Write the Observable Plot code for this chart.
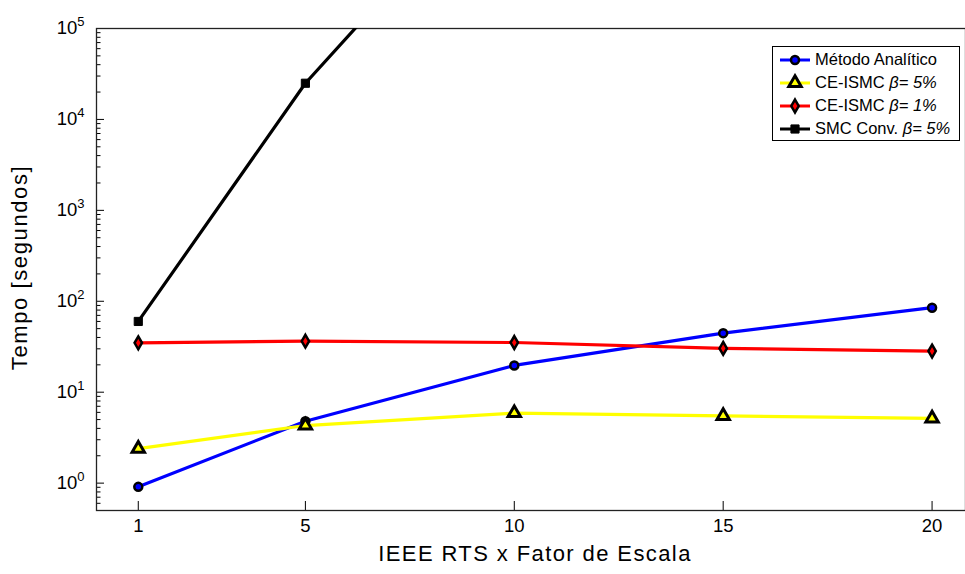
<!DOCTYPE html>
<html><head><meta charset="utf-8">
<script src="https://cdn.jsdelivr.net/npm/d3@7"></script>
<script src="https://cdn.jsdelivr.net/npm/@observablehq/plot@0.6"></script>
<style>
body{margin:0;background:#fff;font-family:"Liberation Sans",Arial,sans-serif}
#wrap{position:relative;width:965px;height:574px;overflow:hidden}
#legend{position:absolute;left:772px;top:46px;width:188px;height:95px;border:1.2px solid #000;background:#fff;box-sizing:border-box;font-size:16.5px;color:#000;padding-top:1px}
#legend .row{display:flex;align-items:center;height:23px;white-space:nowrap}
#legend svg{margin-left:6px;margin-right:4px;flex:none}
#legend i{font-style:italic}
</style></head><body><div id="wrap"></div>
<script>
// ---- data ----
const scaleFactors = [1, 5, 10, 15, 20];
const metodoAnalitico = [0.91, 4.8, 19.7, 44.6, 85];
const ceIsmcBeta5 = [2.4, 4.3, 5.9, 5.5, 5.15];
const ceIsmcBeta1 = [34.9, 36.4, 35.2, 30.3, 28.3];
const smcScaleFactors = [1, 5, 10];
const smcConvBeta5 = [60, 25000, 8.5e6];
const xTicks = [1, 5, 10, 15, 20];
const yTicks = [1, 10, 100, 1000, 10000, 100000];
const xLabel = "IEEE RTS x Fator de Escala";
const yLabel = "Tempo [segundos]";
const seriesNames = ["Método Analítico", "CE-ISMC ", "CE-ISMC ", "SMC Conv. "];
const seriesBeta = ["", "β= 5%", "β= 1%", "β= 5%"];
const seriesColors = ["#0000ff", "#ffff00", "#ff0000", "#000000"];
const seriesSymbols = ["circle", "triangle", "diamond", "square"];

const seriesX = [scaleFactors, scaleFactors, scaleFactors, smcScaleFactors];
const seriesY = [metodoAnalitico, ceIsmcBeta5, ceIsmcBeta1, smcConvBeta5];
const symbolR = {circle: 4, triangle: 4.6, diamond: 3.9, square: 4.6};
const symbolSW = {circle: 2.5, triangle: 3, diamond: 2.5, square: 1};
const series = seriesY.map((ys, i) => ({
  color: seriesColors[i], symbol: seriesSymbols[i],
  rows: ys.map((y, j) => ({x: seriesX[i][j], y}))
}));

const minorTicks = [];
for (let k = -1; k < 5; k++) for (let m = 2; m <= 9; m++) {
  const v = m * Math.pow(10, k);
  if (v >= 0.5 && v <= 1e5) minorTicks.push(v);
}

const marks = [
  Plot.axisY({ticks: minorTicks, tickSize: -4.5, tickFormat: () => "", label: null, strokeWidth: 1}),
  Plot.axisY({ticks: yTicks, tickSize: -8, tickPadding: 20, tickFormat: d => String(Math.round(Math.log10(d))), label: null, fontSize: 18.5, strokeWidth: 1}),
  Plot.axisX({ticks: xTicks, tickSize: -9, tickPadding: 17, tickFormat: d => String(d), label: null, fontSize: 18.5, strokeWidth: 1}),
  Plot.frame({stroke: "#222", strokeWidth: 1.3}),
  Plot.text([xLabel], {frameAnchor: "bottom", dy: 50, dx: 4, fontSize: 22}),
  Plot.text([yLabel], {frameAnchor: "left", textAnchor: "middle", dx: -76.5, dy: -2, rotate: -90, fontSize: 22})
];
for (const s of series) {
  marks.push(Plot.line(s.rows, {x: "x", y: "y", stroke: s.color, strokeWidth: 3.2, clip: true}));
  marks.push(Plot.dot(s.rows, {x: "x", y: "y", symbol: () => s.symbol, r: symbolR[s.symbol],
    fill: s.color, stroke: "#000", strokeWidth: symbolSW[s.symbol], clip: true}));
}

const chart = Plot.plot({
  width: 965, height: 574,
  marginLeft: 96, marginRight: 0, marginTop: 28, marginBottom: 64,
  style: {fontFamily: "'Liberation Sans', Arial, sans-serif", color: "#000", background: "#fff", overflow: "visible"},
  x: {domain: [0, 20.8]},
  y: {type: "log", domain: [0.5, 1e5]},
  symbol: {type: "identity"},
  marks
});
document.getElementById("wrap").appendChild(chart);

// widen axis titles (reference glyphs are wider than Liberation Sans)
d3.select(chart).selectAll("text").each(function() {
  const t = this.textContent;
  if (t === xLabel) this.style.letterSpacing = "1.4px";
  if (t === yLabel) this.style.letterSpacing = "1.6px";
});

// superscript exponents on y tick labels
d3.select(chart).selectAll('g[aria-label="y-axis tick label"] text').each(function() {
  const t = d3.select(this);
  const e = t.text();
  if (e === "") return;
  t.text("");
  t.append("tspan").text("10");
  t.append("tspan").attr("dy", "-0.62em").attr("font-size", "13px").text(e);
});

// legend
const legend = d3.select("#wrap").append("div").attr("id", "legend");
series.forEach((s, i) => {
  const row = legend.append("div").attr("class", "row");
  const svg = row.append("svg").attr("width", 32).attr("height", 20);
  svg.append("line").attr("x1", 1).attr("x2", 31).attr("y1", 10).attr("y2", 10).attr("stroke", s.color).attr("stroke-width", 3);
  const r = symbolR[s.symbol];
  const sym = {circle: d3.symbolCircle, triangle: d3.symbolTriangle, diamond: d3.symbolDiamond, square: d3.symbolSquare}[s.symbol];
  svg.append("path").attr("transform", "translate(16,10)").attr("d", d3.symbol(sym, Math.PI * r * r)())
    .attr("fill", s.color).attr("stroke", "#000").attr("stroke-width", symbolSW[s.symbol]);
  const label = row.append("span");
  label.append("span").text(seriesNames[i]);
  if (seriesBeta[i]) label.append("i").text(seriesBeta[i]);
});
</script>
</body></html>
